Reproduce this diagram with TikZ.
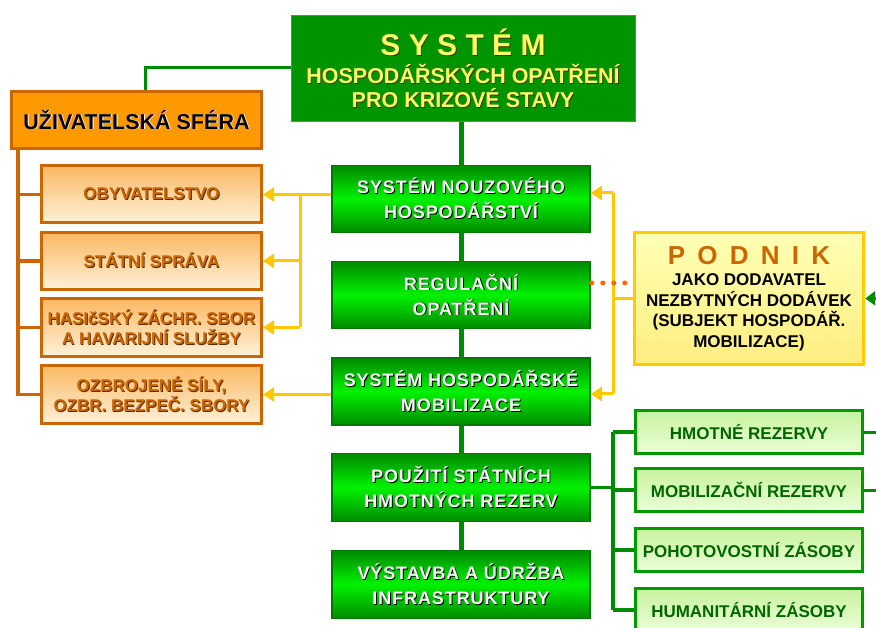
\documentclass[tikz,border=0pt]{standalone}
\usepackage{fontspec}
\setmainfont{Liberation Sans}
\newfontfamily\lsp[LetterSpace=5]{Liberation Sans}
\usetikzlibrary{arrows.meta}
\definecolor{topgreen}{HTML}{009400}
\definecolor{topborder}{HTML}{33AA33}
\definecolor{cdark}{HTML}{008A00}
\definecolor{cbright}{HTML}{00F200}
\definecolor{cborder}{HTML}{007A00}
\definecolor{linegreen}{HTML}{008C00}
\definecolor{ytext}{HTML}{FFFF66}
\definecolor{yshadow}{HTML}{3A3A00}
\definecolor{omain}{HTML}{FF9900}
\definecolor{obord}{HTML}{CC6600}
\definecolor{otop}{HTML}{FAB862}
\definecolor{obot}{HTML}{FFF2DA}
\definecolor{oshadow}{HTML}{5A2A00}
\definecolor{ycol}{HTML}{FFC800}
\definecolor{ptop}{HTML}{FFFFB4}
\definecolor{pbot}{HTML}{FFEE80}
\definecolor{pbord}{HTML}{FFCC00}
\definecolor{ltop}{HTML}{C8F2A0}
\definecolor{lbot}{HTML}{EBFFD6}
\definecolor{lbord}{HTML}{009900}
\definecolor{ltext}{HTML}{006600}
\definecolor{dotcol}{HTML}{FF6600}
\newcommand{\sh}[2]{\rlap{\kern0.9pt\raisebox{-0.9pt}{\textcolor{#1}{#2}}}#2}
\tikzset{
  topbox/.style={draw=topborder, line width=1pt, fill=topgreen, minimum width=344pt, minimum height=106pt, inner sep=0pt, align=center, text=ytext, font=\bfseries\fontsize{21.5}{24}\selectfont},
  umain/.style={draw=obord, line width=3pt, fill=omain, minimum width=250pt, minimum height=57pt, inner sep=0pt, font=\bfseries\fontsize{21.5}{24}\selectfont, text=black},
  osub/.style={draw=obord, line width=3pt, top color=otop, bottom color=obot, minimum width=220pt, minimum height=57pt, inner sep=0pt, align=center, font=\bfseries\fontsize{17}{20}\selectfont, text=obord},
  central/.style={draw=cborder, line width=1.5pt, top color=cdark, bottom color=cdark, middle color=cbright, minimum width=258pt, minimum height=67pt, inner sep=0pt, align=center, text=white, font=\lsp\bfseries\fontsize{18}{25}\selectfont},
  podnik/.style={draw=pbord, line width=3.5pt, top color=ptop, bottom color=pbot, minimum width=229pt, minimum height=132pt, inner sep=0pt, align=center, font=\bfseries\fontsize{17}{20.5}\selectfont, text=black},
  lbox/.style={draw=lbord, line width=3pt, top color=ltop, bottom color=lbot, minimum width=227pt, minimum height=43pt, inner sep=0pt, font=\bfseries\fontsize{17}{20}\selectfont, text=ltext},
  gline/.style={draw=linegreen, line width=4pt},
  oline/.style={draw=obord, line width=3.5pt},
  yline/.style={draw=ycol, line width=3pt},
  yarrow/.style={draw=ycol, line width=3pt, -{Triangle[length=11pt,width=14pt]}},
}
\begin{document}
\begin{tikzpicture}[x=1pt,y=-1pt]
\useasboundingbox (0,0) rectangle (876,628);
\clip (0,0) rectangle (876,628);
\coordinate (tl) at (145,68);
\coordinate (ospine) at (18,150);
\coordinate (yl) at (300,195);
\coordinate (yr1) at (613,193);
\coordinate (yr2) at (613,394);
\coordinate (gr1) at (613,432);
\coordinate (gr2) at (613,610);
\coordinate (dotend) at (626,283);
\coordinate (offr) at (900,298);

\node[topbox] (top) at (463,69) {{\fontsize{30}{32}\selectfont\sh{yshadow}{S Y S T É M}}\\[4pt]
\sh{yshadow}{HOSPODÁŘSKÝCH OPATŘENÍ}\\
\sh{yshadow}{PRO KRIZOVÉ STAVY}};

\node[umain] (usr) at (136.5,120) {\sh{white}{UŽIVATELSKÁ SFÉRA}};
\node[osub] (o1) at (151.5,194.5) {\sh{oshadow}{OBYVATELSTVO}};
\node[osub] (o2) at (151.5,261) {\sh{oshadow}{STÁTNÍ SPRÁVA}};
\node[osub,minimum height=58pt] (o3) at (151.5,327.5) {\sh{oshadow}{HASIčSKÝ ZÁCHR. SBOR}\\\sh{oshadow}{A HAVARIJNÍ SLUŽBY}};
\node[osub,minimum height=58pt] (o4) at (151.5,394.5) {\sh{oshadow}{OZBROJENÉ SÍLY,}\\\sh{oshadow}{OZBR. BEZPEČ. SBORY}};

\node[central] (b1) at (461,199) {\sh{black}{SYSTÉM NOUZOVÉHO}\\\sh{black}{HOSPODÁŘSTVÍ}};
\node[central] (b2) at (461,295) {\sh{black}{REGULAČNÍ}\\\sh{black}{OPATŘENÍ}};
\node[central] (b3) at (461,391.5) {\sh{black}{SYSTÉM HOSPODÁŘSKÉ}\\\sh{black}{MOBILIZACE}};
\node[central,minimum height=68pt] (b4) at (461,487.5) {\sh{black}{POUŽITÍ STÁTNÍCH}\\\sh{black}{HMOTNÝCH REZERV}};
\node[central,minimum height=68pt] (b5) at (461,584.5) {\sh{black}{VÝSTAVBA A ÚDRŽBA}\\\sh{black}{INFRASTRUKTURY}};

\node[podnik] (pod) at (749,298.5) {{\fontsize{26}{28}\selectfont\color{obord}P\hspace{5pt} O\hspace{5pt} D\hspace{5pt} N\hspace{5pt} I\hspace{5pt} K}\\[1pt]
JAKO DODAVATEL\\NEZBYTNÝCH DODÁVEK\\(SUBJEKT HOSPODÁŘ.\\MOBILIZACE)};

\node[lbox] (l1) at (749,432) {HMOTNÉ REZERVY};
\node[lbox] (l2) at (749,490) {MOBILIZAČNÍ REZERVY};
\node[lbox] (l3) at (749,550) {POHOTOVOSTNÍ ZÁSOBY};
\node[lbox] (l4) at (749,610) {HUMANITÁRNÍ ZÁSOBY};

% green connectors
\draw[draw=linegreen, line width=3pt] (top.west |- tl) -- (tl) -- (tl |- usr.north);
\draw[gline, line width=5pt] (top.south -| b1.north) -- (b1.north);
\draw[gline, line width=5pt] (b1.south) -- (b2.north);
\draw[gline, line width=5pt] (b2.south) -- (b3.north);
\draw[gline, line width=5pt] (b3.south) -- (b4.north);
\draw[gline, line width=5pt] (b4.south) -- (b5.north);
\draw[gline, line width=3.5pt] (b4.east) -- (b4.east -| gr1);
\draw[gline, line width=3.5pt] (gr1) -- (gr2);
\draw[gline, line width=3.5pt] (gr1) -- (l1.west);
\draw[gline, line width=3.5pt] (gr1 |- l2.west) -- (l2.west);
\draw[gline, line width=3.5pt] (gr1 |- l3.west) -- (l3.west);
\draw[gline, line width=3.5pt] (gr2) -- (l4.west);
\draw[gline, line width=3pt] (l1.east) -- ++(30,0);
\draw[gline, line width=3pt] (l2.east) -- ++(30,0);
\draw[draw=linegreen, line width=3pt, -{Triangle[length=10pt,width=14pt]}] (offr) -- (pod.east);

% orange spine
\draw[oline] (ospine) -- (ospine |- o4.west) -- (o4.west);
\draw[oline] (ospine |- o1.west) -- (o1.west);
\draw[oline] (ospine |- o2.west) -- (o2.west);
\draw[oline] (ospine |- o3.west) -- (o3.west);

% yellow connectors
\draw[yarrow] (b1.west |- o1.east) -- (o1.east);
\draw[yline] (yl) -- (yl |- o3.east);
\draw[yarrow] (yl |- o2.east) -- (o2.east);
\draw[yarrow] (yl |- o3.east) -- (o3.east);
\draw[yarrow] (b3.west |- o4.east) -- (o4.east);
\draw[yline] (pod.west) -- (pod.west -| yr1);
\draw[yline] (yr1) -- (yr2);
\draw[yarrow] (yr1) -- (yr1 -| b1.east);
\draw[yarrow] (yr2) -- (yr2 -| b3.east);

% dotted
\draw[draw=dotcol, line width=5pt, line cap=round, dash pattern=on 0pt off 11pt] (b2.east |- dotend) ++(1,0) -- (dotend);
\end{tikzpicture}
\end{document}
